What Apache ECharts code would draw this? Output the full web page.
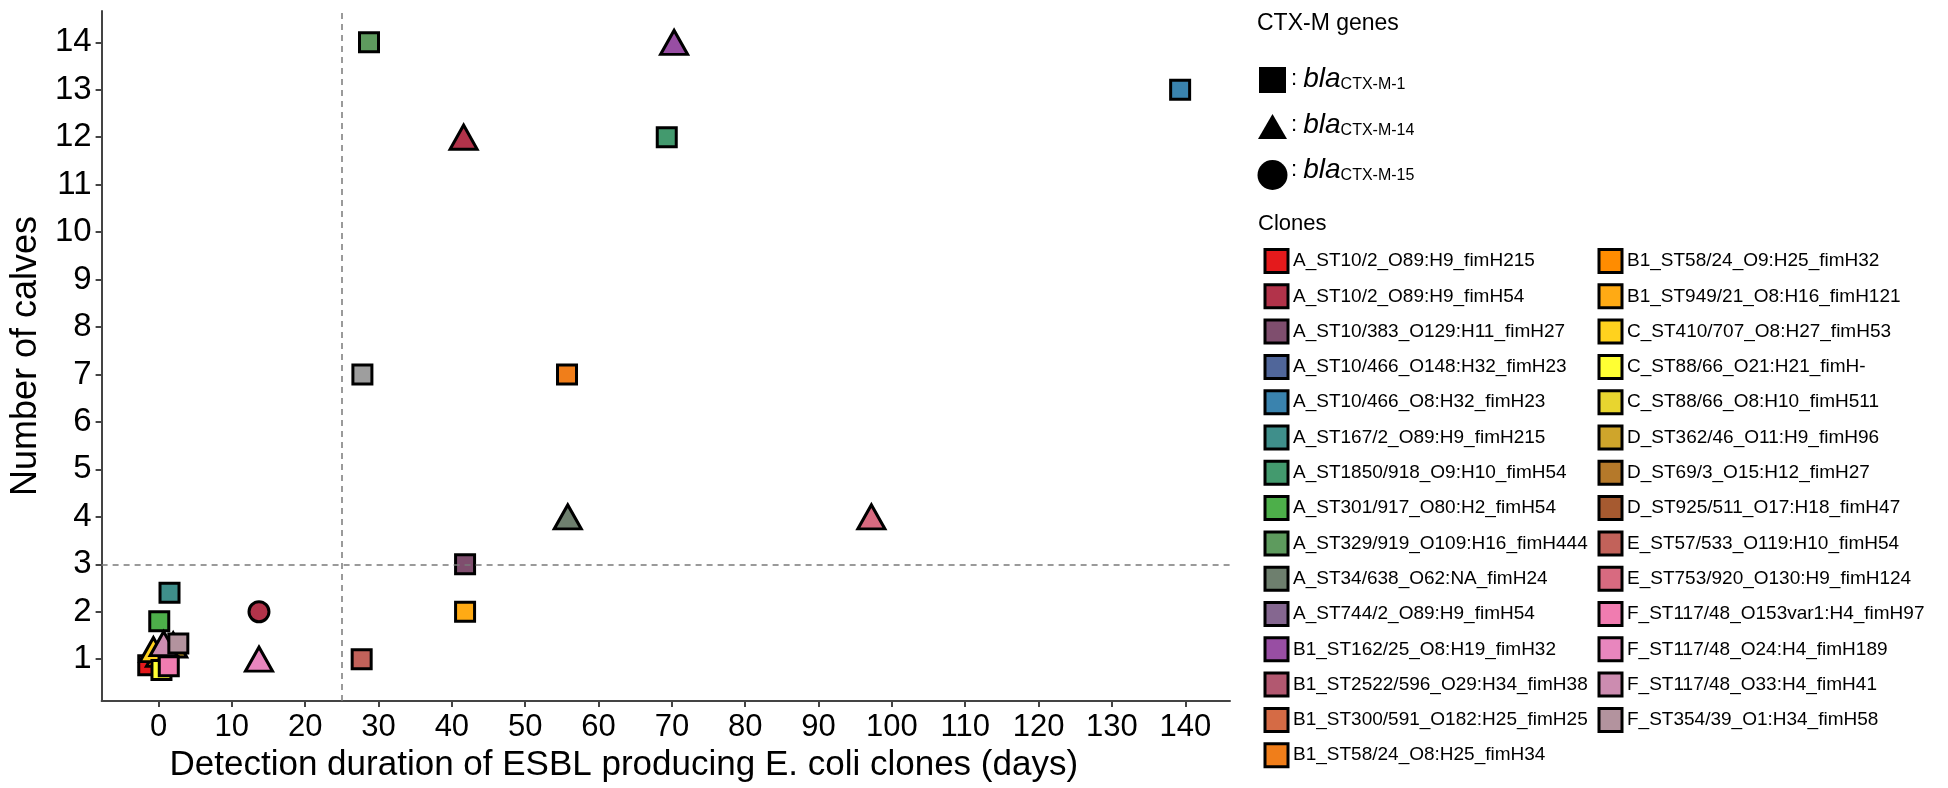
<!DOCTYPE html>
<html><head><meta charset="utf-8">
<script src="https://cdn.jsdelivr.net/npm/echarts@6/dist/echarts.min.js"></script>
<style>html,body{margin:0;padding:0;background:#fff}#c{width:1948px;height:788px}</style>
</head><body><div id="c"></div>
<script>
// ---------- data ----------
const clones = [
  'A_ST10/2_O89:H9_fimH215','A_ST10/2_O89:H9_fimH54','A_ST10/383_O129:H11_fimH27',
  'A_ST10/466_O148:H32_fimH23','A_ST10/466_O8:H32_fimH23','A_ST167/2_O89:H9_fimH215',
  'A_ST1850/918_O9:H10_fimH54','A_ST301/917_O80:H2_fimH54','A_ST329/919_O109:H16_fimH444',
  'A_ST34/638_O62:NA_fimH24','A_ST744/2_O89:H9_fimH54','B1_ST162/25_O8:H19_fimH32',
  'B1_ST2522/596_O29:H34_fimH38','B1_ST300/591_O182:H25_fimH25','B1_ST58/24_O8:H25_fimH34',
  'B1_ST58/24_O9:H25_fimH32','B1_ST949/21_O8:H16_fimH121','C_ST410/707_O8:H27_fimH53',
  'C_ST88/66_O21:H21_fimH-','C_ST88/66_O8:H10_fimH511','D_ST362/46_O11:H9_fimH96',
  'D_ST69/3_O15:H12_fimH27','D_ST925/511_O17:H18_fimH47','E_ST57/533_O119:H10_fimH54',
  'E_ST753/920_O130:H9_fimH124','F_ST117/48_O153var1:H4_fimH97','F_ST117/48_O24:H4_fimH189',
  'F_ST117/48_O33:H4_fimH41','F_ST354/39_O1:H34_fimH58'
];
const cloneColors = [
  '#E41A1C','#B2334A','#7F4E6E','#50669A','#3A83AE','#3F8F8B','#439A6E','#4DAF4A','#5E9B5E',
  '#6E7F6E','#856790','#984EA3','#B25870','#D56B45','#F07E1A','#FF8C00','#FFAA14','#FFD21E',
  '#FFFF33','#E8D52F','#CFA52B','#B5792A','#A65A30','#C2625A','#D86A80','#F07CB0','#E886BE',
  '#CC8CB0','#B3939E'
];
const genes = ['CTX-M-1','CTX-M-14','CTX-M-15'];

// each point: duration (days), number of calves, gene index, clone index (-1 = not in legend)
const pointDays   = [28.7, 70.3, 139.3, 41.6, 69.3, 27.8, 55.7, 55.8, 97.2, 41.8, 41.8, 27.7, 13.7, 13.7, 1.5, 0.1, -0.7, 2.0, 0.2, 0.7, 2.7, -1.4, 0.4, 1.4];
const pointCalves = [14, 14, 13, 12, 12, 7, 7, 4, 4, 3, 2, 1, 2, 1, 2.4, 1.8, 1.2, 1.3, 1.1, 1.33, 1.33, 0.87, 0.77, 0.85];
const pointGene   = [0, 1, 0, 1, 0, 0, 0, 1, 1, 0, 0, 0, 2, 1, 0, 0, 1, 1, 1, 1, 0, 0, 0, 0];
const pointClone  = [8, 11, 4, 1, 6, -1, 14, 9, 24, 2, 16, 23, 1, 26, 5, 7, 17, 20, 15, 27, 28, 0, 18, 25];
const unassignedColor = '#9E9E9E';

const thresholdDays = 25;
const thresholdCalves = 3;
const xTicks = [0,10,20,30,40,50,60,70,80,90,100,110,120,130,140];
const yTicks = [1,2,3,4,5,6,7,8,9,10,11,12,13,14];

// ---------- style ----------
const FONT = "'Liberation Sans', Arial, sans-serif";
const geneSymbol = ['rect','triangle','circle'];
const geneSize = [[19,19],[27,24],[20,20]];

function pointsOf(ci){
  const out = [];
  for (let i = 0; i < pointDays.length; i++) {
    if (pointClone[i] !== ci) continue;
    const g = pointGene[i];
    out.push({value:[pointDays[i], pointCalves[i]], symbol: geneSymbol[g], symbolSize: geneSize[g]});
  }
  return out;
}

const series = [];
series.push({
  name:'thresholds', type:'scatter', data:[], silent:true, z:1,
  markLine:{
    silent:true, symbol:'none', animation:false,
    label:{show:false},
    lineStyle:{color:'#7a7a7a', type:[6,5], width:1.5, opacity:1},
    emphasis:{disabled:true},
    data:[{xAxis: thresholdDays},{yAxis: thresholdCalves}]
  }
});
series.push({
  name:'unassigned', type:'scatter', data: pointsOf(-1), z:3,
  itemStyle:{color: unassignedColor, borderColor:'#000', borderWidth:3, opacity:1},
  emphasis:{disabled:true}
});
clones.forEach((c, i) => {
  series.push({
    name:c, type:'scatter', data: pointsOf(i), z:3,
    itemStyle:{color: cloneColors[i], borderColor:'#000', borderWidth:3, opacity:1},
    emphasis:{disabled:true}
  });
});

const legendBase = {
  orient:'vertical', top:248, itemWidth:23, itemHeight:23, itemGap:9.3,
  icon:'rect', padding:0, selectedMode:false,
  itemStyle:{borderColor:'#000', borderWidth:3, opacity:1},
  textStyle:{fontSize:19, color:'#000', fontFamily:FONT}
};

const geneRows = [
  {shape:'rect', cy:80, ty:79},
  {shape:'tri', cy:127, ty:125},
  {shape:'circle', cy:175, ty:170}
];
const graphic = [
  {type:'text', left:1257, top:12, style:{text:'CTX-M genes', fontSize:23, fill:'#000', fontFamily:FONT}},
  {type:'text', left:1258, top:213, style:{text:'Clones', fontSize:22, fill:'#000', fontFamily:FONT}}
];
geneRows.forEach((r, i) => {
  if (r.shape === 'rect') graphic.push({type:'rect', shape:{x:1259, y:r.cy-13, width:27, height:26}, style:{fill:'#000'}});
  if (r.shape === 'tri') graphic.push({type:'polygon', shape:{points:[[1258,r.cy+12],[1272.5,r.cy-13],[1287,r.cy+12]]}, style:{fill:'#000'}});
  if (r.shape === 'circle') graphic.push({type:'circle', shape:{cx:1272.5, cy:r.cy, r:15}, style:{fill:'#000'}});
  graphic.push({
    type:'text', x:1291, y:r.ty,
    style:{
      text:'{a|: }{b|bla}{c|' + genes[i] + '}',
      verticalAlign:'middle', fontFamily:FONT,
      rich:{
        a:{fontSize:22, fill:'#000', fontFamily:FONT, verticalAlign:'middle'},
        b:{fontSize:28, fill:'#000', fontStyle:'italic', fontFamily:FONT, verticalAlign:'middle'},
        c:{fontSize:16, fill:'#000', fontFamily:FONT, verticalAlign:'bottom'}
      }
    }
  });
});

const chart = echarts.init(document.getElementById('c'), null, {renderer:'canvas'});
chart.setOption({
  animation:false,
  backgroundColor:'#fff',
  textStyle:{fontFamily:FONT},
  grid:{left:100, top:11, width:1130, height:692, containLabel:false},
  xAxis:{
    type:'value', min:-7.76, max:146.1,
    name:'Detection duration of ESBL producing E. coli clones (days)',
    nameLocation:'middle', nameGap:44,
    nameTextStyle:{fontSize:35, color:'#000', fontFamily:FONT, padding:[0,84,0,0]},
    axisLine:{show:true, onZero:false, lineStyle:{color:'#444', width:2}},
    axisTick:{show:true, length:6, customValues:xTicks, lineStyle:{color:'#444', width:2}},
    axisLabel:{customValues:xTicks, fontSize:31, color:'#000', margin:11, fontFamily:FONT},
    splitLine:{show:false}
  },
  yAxis:{
    type:'value', min:0.117, max:14.66,
    name:'Number of calves', nameLocation:'middle', nameGap:53,
    nameTextStyle:{fontSize:36, color:'#000', fontFamily:FONT},
    axisLine:{show:true, onZero:false, lineStyle:{color:'#444', width:2}},
    axisTick:{show:true, length:6, customValues:yTicks, lineStyle:{color:'#444', width:2}},
    axisLabel:{customValues:yTicks, fontSize:33, color:'#000', margin:10, fontFamily:FONT},
    splitLine:{show:false}
  },
  legend:[
    Object.assign({}, legendBase, {left:1263.5, data: clones.slice(0,15)}),
    Object.assign({}, legendBase, {left:1597.5, data: clones.slice(15)})
  ],
  graphic: graphic,
  series: series
});
</script></body></html>
